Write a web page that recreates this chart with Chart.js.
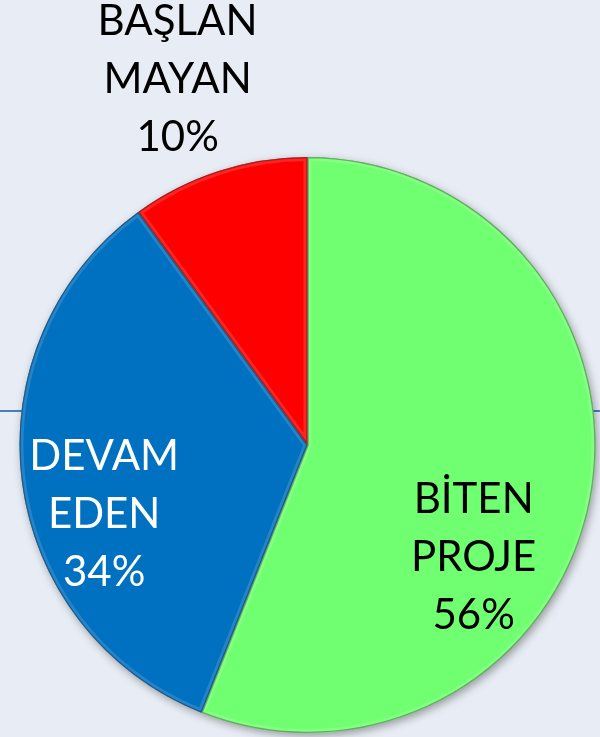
<!DOCTYPE html>
<html>
<head>
<meta charset="utf-8">
<script src="https://cdn.jsdelivr.net/npm/chart.js@4/dist/chart.umd.min.js"></script>
<style>
  html, body { margin: 0; padding: 0; background: #e8ecf4; }
  #wrap { width: 600px; height: 737px; position: relative; }
</style>
</head>
<body>
<div id="wrap"><canvas id="c" width="600" height="737"></canvas></div>
<script>
// ---- data ----
const categories = [['BİTEN', 'PROJE'], ['DEVAM', 'EDEN'], ['BAŞLAN', 'MAYAN']];
const values = [56, 34, 10];
const sliceColors = ['#70ff70', '#0070c0', '#ff0000'];
const labelColors = ['#000000', '#ffffff', '#000000'];

// label anchor offsets (fractions of radius from pie centre; first baseline)
const labelAnchors = [
  { fx: 0.577, fy: 0.237 },
  { fx: -0.706, fy: 0.087 },
  { fx: -0.451, fy: -1.425 }
];

const FONT = '42px Lato, "Open Sans", sans-serif';
const LINE_H = 58;

const backdrop = {
  id: 'backdrop',
  beforeDatasetsDraw(chart) {
    const ctx = chart.ctx;
    const arc = chart.getDatasetMeta(0).data[0];
    if (!arc) return;
    // horizontal rule behind the pie
    ctx.save();
    ctx.strokeStyle = '#4a7ec0';
    ctx.lineWidth = 2;
    ctx.beginPath();
    ctx.moveTo(0, arc.y - 34);
    ctx.lineTo(chart.width, arc.y - 34);
    ctx.stroke();
    // soft shadow under the pie
    ctx.shadowColor = 'rgba(0,0,0,0.35)';
    ctx.shadowBlur = 8;
    ctx.shadowOffsetX = 2;
    ctx.shadowOffsetY = 3;
    ctx.fillStyle = '#888';
    ctx.beginPath();
    ctx.arc(arc.x, arc.y, arc.outerRadius, 0, Math.PI * 2);
    ctx.fill();
    ctx.restore();
  },
  afterDatasetsDraw(chart) {
    const ctx = chart.ctx;
    const meta = chart.getDatasetMeta(0);
    // bevel on each slice
    meta.data.forEach((a) => {
      ctx.save();
      ctx.beginPath();
      ctx.moveTo(a.x, a.y);
      ctx.arc(a.x, a.y, a.outerRadius, a.startAngle, a.endAngle);
      ctx.closePath();
      ctx.clip();
      ctx.lineJoin = 'round';
      ctx.strokeStyle = 'rgba(255,255,255,0.14)';
      ctx.lineWidth = 8;
      ctx.stroke();
      ctx.strokeStyle = 'rgba(0,0,0,0.3)';
      ctx.lineWidth = 2.5;
      ctx.stroke();
      ctx.restore();
    });
    // labels
    const a0 = meta.data[0];
    const r = a0.outerRadius;
    ctx.save();
    ctx.font = FONT;
    ctx.textAlign = 'center';
    ctx.textBaseline = 'alphabetic';
    meta.data.forEach((a, i) => {
      const lines = categories[i].concat([values[i] + '%']);
      const x = a.x + labelAnchors[i].fx * r;
      const y0 = a.y + labelAnchors[i].fy * r;
      ctx.fillStyle = labelColors[i];
      lines.forEach((t, k) => ctx.fillText(t, x, y0 + k * LINE_H));
    });
    ctx.restore();
  }
};

new Chart(document.getElementById('c'), {
  type: 'pie',
  data: {
    labels: categories.map(c => c.join(' ')),
    datasets: [{
      data: values,
      backgroundColor: sliceColors,
      borderWidth: 0
    }]
  },
  options: {
    responsive: false,
    animation: false,
    layout: { padding: { left: 19.5, right: 4.5, top: 157, bottom: 4 } },
    plugins: { legend: { display: false }, tooltip: { enabled: false } }
  },
  plugins: [backdrop]
});
</script>
</body>
</html>
